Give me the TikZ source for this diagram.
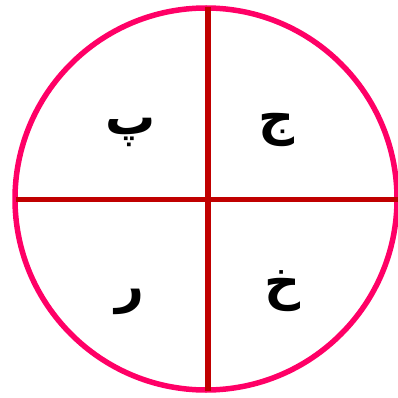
\documentclass[tikz,border=0pt]{standalone}
\usepackage{fontspec}
\TeXXeTstate=1
\newfontfamily\arabicfont[Script=Arabic]{DejaVu Sans}
\definecolor{ringpink}{HTML}{FF0066}
\definecolor{crossred}{HTML}{C00000}
\begin{document}
\begin{tikzpicture}[x=1pt,y=-1pt,
  ring/.style={draw=ringpink,line width=5.5pt},
  cross/.style={draw=crossred,line width=5.5pt},
  letter/.style={font=\arabicfont\bfseries\fontsize{50}{52}\selectfont,inner sep=0pt}]
\useasboundingbox (0,0) rectangle (398,398);
\coordinate (c) at (206,199);
\node[ring,circle,minimum size=382pt,inner sep=0pt] (rim) at (c) {};
\coordinate (top) at (208,7);
\coordinate (bot) at (208,391);
\coordinate (lft) at (16,199.5);
\coordinate (rgt) at (398,199.5);
\draw[cross] (top) -- (bot);
\draw[cross] (lft) -- (rgt);
\node[letter] (pe) at (131,132) {\beginR پ\endR};
\node[letter] (jim) at (277,130) {\beginR ج\endR};
\node[letter] (re) at (130,302) {\beginR ر\endR};
\node[letter] (khe) at (283,291) {\beginR خ\endR};
\end{tikzpicture}
\end{document}
